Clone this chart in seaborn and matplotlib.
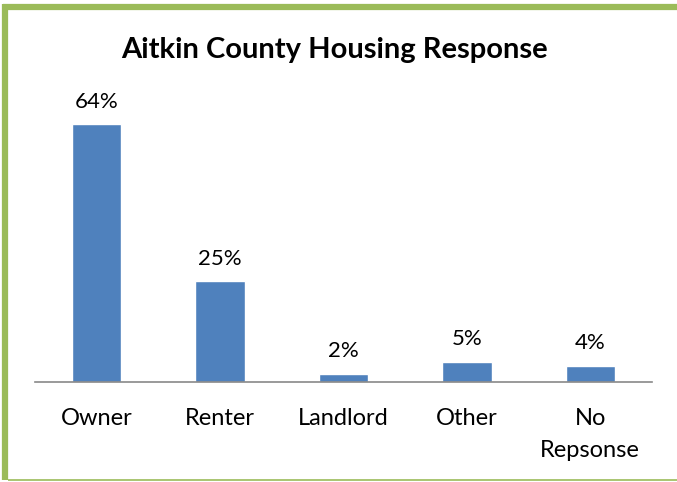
import numpy as np
import pandas as pd
import matplotlib.pyplot as plt
import seaborn as sns
from matplotlib.lines import Line2D

# Data
categories = ["Owner", "Renter", "Landlord", "Other", "No\nRepsonse"]
percents = [64, 25, 2, 5, 4]
bar_color = "#4F81BD"
frame_color = "#9BBB59"

df = pd.DataFrame({"Housing": categories, "Percent": percents})

sns.set_theme(style="white")
plt.rcParams['font.family'] = ['Lato', 'DejaVu Sans']
plt.rcParams['text.color'] = 'black'

fig = plt.figure(figsize=(6.77, 4.82), dpi=100)
ax = fig.add_axes([35 / 677, 1 - 382 / 482, 617 / 677, 290 / 482])

sns.barplot(data=df, x="Housing", y="Percent", color=bar_color,
            width=0.4, saturation=1, ax=ax)
ax.set_ylim(0, 72)
ax.set_xlim(-0.5, len(categories) - 0.5)

# value labels
for i, v in enumerate(percents):
    ax.annotate(f"{v}%", (i, v), xytext=(0, 9), textcoords="offset points",
                ha="center", va="bottom", fontsize=16, color="black")

ax.set_xlabel("")
ax.set_ylabel("")
ax.set_yticks([])
ax.tick_params(axis="x", length=0, pad=19, labelsize=17, colors="black")
for lab in ax.get_xticklabels():
    lab.set_linespacing(1.6)
for s in ["top", "right", "left"]:
    ax.spines[s].set_visible(False)
ax.spines["bottom"].set_color("#898989")
ax.spines["bottom"].set_linewidth(1.2)
ax.patch.set_alpha(0)

fig.text(334 / 677, 1 - 50 / 482, "Aitkin County Housing Response",
         ha="center", va="center", fontsize=21, fontweight="bold",
         color="black")

# green frame around the chart
fig.add_artist(Line2D([5.5 / 677, 5.5 / 677], [1 - 480 / 482, 1 - 4 / 482],
                      transform=fig.transFigure, color=frame_color, lw=4.5,
                      solid_capstyle="butt"))
fig.add_artist(Line2D([3 / 677, 1], [1 - 6.5 / 482, 1 - 6.5 / 482],
                      transform=fig.transFigure, color=frame_color, lw=4.5,
                      solid_capstyle="butt"))
fig.add_artist(Line2D([8 / 677, 1], [1 - 479.5 / 482, 1 - 479.5 / 482],
                      transform=fig.transFigure, color=frame_color, lw=1.2,
                      solid_capstyle="butt"))

fig.savefig("out.png", dpi=100)
